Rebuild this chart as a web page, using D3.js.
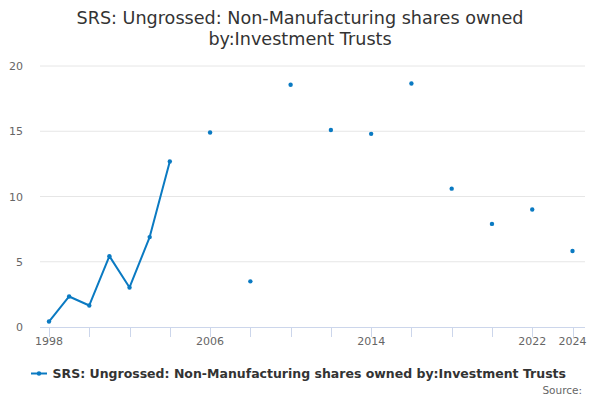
<!DOCTYPE html>
<html>
<head>
<meta charset="utf-8">
<script src="https://cdn.jsdelivr.net/npm/d3@7"></script>
<style>
  html, body { margin: 0; padding: 0; background: #fff; }
  svg { display: block; font-family: "DejaVu Sans", sans-serif; }
</style>
</head>
<body>
<svg id="chart" width="600" height="400"></svg>
<script>
const titleLines = ["SRS: Ungrossed: Non-Manufacturing shares owned", "by:Investment Trusts"];
const seriesName = "SRS: Ungrossed: Non-Manufacturing shares owned by:Investment Trusts";
const years = [1998, 1999, 2000, 2001, 2002, 2003, 2004, 2005, 2006, 2007, 2008, 2009, 2010, 2011,
               2012, 2013, 2014, 2015, 2016, 2017, 2018, 2019, 2020, 2021, 2022, 2023, 2024];
const values = [0.42, 2.34, 1.65, 5.43, 3.03, 6.89, 12.68, null, 14.9, null, 3.5, null, 18.56, null,
                15.1, null, 14.8, null, 18.66, null, 10.6, null, 7.9, null, 9.0, null, 5.82];
const yTicks = [0, 5, 10, 15, 20];
const xTickYears = [1998, 2000, 2002, 2004, 2006, 2008, 2010, 2012, 2014, 2016, 2018, 2020, 2022, 2024];
const xLabelYears = [1998, 2006, 2014, 2022, 2024];

const data = years.map((y, i) => ({ year: y, value: values[i] }));

const svg = d3.select("#chart");
const plotLeft = 40, plotRight = 585, plotTop = 66, plotBottom = 327;

const x = d3.scaleLinear().domain([1998, 2024]).range([49, 572.5]);
const y = d3.scaleLinear().domain([0, 20]).range([plotBottom, plotTop]);

// Title
svg.append("text")
  .attr("x", 300).attr("y", 24)
  .attr("text-anchor", "middle")
  .style("font-size", "17.6px").style("fill", "#333333")
  .selectAll("tspan").data(titleLines).join("tspan")
  .attr("x", 300).attr("dy", (d, i) => i === 0 ? 0 : 21)
  .text(d => d);

// Gridlines
svg.append("g").selectAll("line").data(yTicks.filter(t => t !== 0)).join("line")
  .attr("x1", plotLeft).attr("x2", plotRight)
  .attr("y1", d => y(d)).attr("y2", d => y(d))
  .attr("stroke", "#e6e6e6").attr("stroke-width", 1);

// Y labels
svg.append("g").selectAll("text").data(yTicks).join("text")
  .attr("x", 23).attr("y", d => y(d) + 4)
  .attr("text-anchor", "end")
  .style("font-size", "11px").style("fill", "#666666")
  .text(d => d);

// X axis
const xAxisG = svg.append("g");
xAxisG.append("line")
  .attr("x1", plotLeft).attr("x2", plotRight)
  .attr("y1", plotBottom + 0.5).attr("y2", plotBottom + 0.5)
  .attr("stroke", "#ccd6eb");
xAxisG.selectAll("line.tick").data(xTickYears).join("line")
  .attr("class", "tick")
  .attr("x1", d => Math.round(x(d)) + 0.5).attr("x2", d => Math.round(x(d)) + 0.5)
  .attr("y1", plotBottom).attr("y2", plotBottom + 10)
  .attr("stroke", "#ccd6eb");
xAxisG.selectAll("text").data(xLabelYears).join("text")
  .attr("x", d => x(d)).attr("y", 345)
  .attr("text-anchor", "middle")
  .style("font-size", "11px").style("fill", "#666666")
  .text(d => d);

// Line
const color = "#0a7ac2";
const line = d3.line()
  .defined(d => d.value !== null)
  .x(d => x(d.year)).y(d => y(d.value));
svg.append("path").datum(data)
  .attr("d", line)
  .attr("fill", "none").attr("stroke", color).attr("stroke-width", 2)
  .attr("stroke-linejoin", "round").attr("stroke-linecap", "round");

svg.append("g").selectAll("circle").data(data.filter(d => d.value !== null)).join("circle")
  .attr("cx", d => x(d.year)).attr("cy", d => y(d.value))
  .attr("r", 2.2).attr("fill", color);

// Legend
const lg = svg.append("g");
lg.append("line").attr("x1", 31).attr("x2", 47).attr("y1", 373.5).attr("y2", 373.5)
  .attr("stroke", color).attr("stroke-width", 2);
lg.append("circle").attr("cx", 39).attr("cy", 373.5).attr("r", 2.2).attr("fill", color);
lg.append("text").attr("x", 52.5).attr("y", 377.5)
  .style("font-size", "12.5px").style("font-weight", "bold").style("fill", "#333333")
  .text(seriesName);

// Source
svg.append("text").attr("x", 582).attr("y", 394)
  .attr("text-anchor", "end")
  .style("font-size", "10.5px").style("fill", "#666666")
  .text("Source:");
</script>
</body>
</html>
